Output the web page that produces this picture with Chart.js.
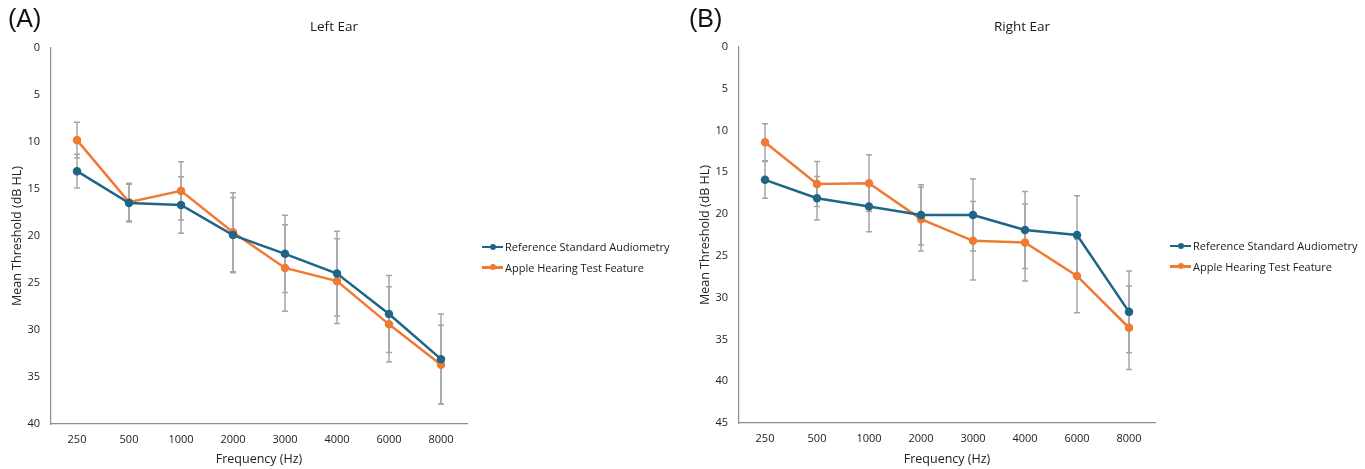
<!DOCTYPE html>
<html>
<head>
<meta charset="utf-8">
<script src="https://cdn.jsdelivr.net/npm/chart.js@4.4.1/dist/chart.umd.min.js"></script>
<style>
  body { margin: 0; background: #fff; font-family: "Open Sans", sans-serif; }
  #wrap { position: relative; width: 1365px; height: 469px; overflow: hidden; }
  .panel { position: absolute; top: 0; height: 469px; }
  .tag { position: absolute; top: 4px; font: 25px "Liberation Sans", Arial, sans-serif; color: #111; }
  .ttl { position: absolute; top: 17px; font-size: 13.5px; color: #1a1a1a; transform: translateX(-50%); white-space: nowrap; }
  .leg { position: absolute; font-size: 11px; color: #1a1a1a; }
  .leg div { height: 20.5px; line-height: 20px; white-space: nowrap; }
  .leg span { display: inline-block; width: 21px; height: 2.5px; vertical-align: middle; position: relative; margin-right: 2px; top: -1px; }
  .leg span:after { content: ""; position: absolute; left: 7.5px; top: -2px; width: 6px; height: 6px; border-radius: 50%; background: inherit; }
</style>
</head>
<body>
<div id="wrap">
  <div class="panel" style="left:0;width:680px"><canvas id="left" width="680" height="469"></canvas></div>
  <div class="panel" style="left:680px;width:685px"><canvas id="right" width="685" height="469"></canvas></div>
  <div class="tag" style="left:8px">(A)</div>
  <div class="tag" style="left:689px">(B)</div>
  <div class="ttl" style="left:334px">Left Ear</div>
  <div class="ttl" style="left:1022px">Right Ear</div>
  <div class="leg" style="left:482px;top:237px">
    <div><span style="background:#1f6587"></span>Reference Standard Audiometry</div>
    <div><span style="background:#f07a33"></span>Apple Hearing Test Feature</div>
  </div>
  <div class="leg" style="left:1170px;top:236px">
    <div><span style="background:#1f6587"></span>Reference Standard Audiometry</div>
    <div><span style="background:#f07a33"></span>Apple Hearing Test Feature</div>
  </div>
</div>
<script>
// frequencies
const freqs = ['250', '500', '1000', '2000', '3000', '4000', '6000', '8000'];

// left ear
const leftRef = [13.1, 16.5, 16.7, 19.9, 21.9, 24.0, 28.3, 33.1];
const leftRefSd = [1.8, 2.0, 3.0, 4.0, 4.1, 4.5, 4.1, 4.8];
const leftApple = [9.8, 16.4, 15.2, 19.6, 23.4, 24.8, 29.4, 33.7];
const leftAppleSd = [1.9, 2.0, 3.1, 4.2, 4.6, 4.5, 4.0, 4.2];

// right ear
const rightRef = [15.9, 18.1, 19.1, 20.1, 20.1, 21.9, 22.5, 31.7];
const rightRefSd = [2.2, 2.6, 3.0, 3.6, 4.3, 4.6, 4.7, 4.9];
const rightApple = [11.4, 16.4, 16.3, 20.6, 23.2, 23.4, 27.4, 33.6];
const rightAppleSd = [2.2, 2.7, 3.4, 3.8, 4.7, 4.6, 4.4, 5.0];

const BLUE = '#1f6587';
const ORANGE = '#f07a33';

// error bars drawn under the lines
const errorBars = {
    id: 'errorBars',
    beforeDatasetsDraw(chart) {
        const ctx = chart.ctx;
        const x = chart.scales.x, y = chart.scales.y;
        ctx.save();
        ctx.strokeStyle = '#a6a6a6';
        ctx.lineWidth = 1.5;
        chart.data.datasets.forEach(ds => {
            ds.data.forEach((v, i) => {
                const px = x.getPixelForValue(i);
                const top = y.getPixelForValue(v - ds.sd[i]);
                const bot = y.getPixelForValue(v + ds.sd[i]);
                ctx.beginPath();
                ctx.moveTo(px, top); ctx.lineTo(px, bot);
                ctx.moveTo(px - 3, top); ctx.lineTo(px + 3, top);
                ctx.moveTo(px - 3, bot); ctx.lineTo(px + 3, bot);
                ctx.stroke();
            });
        });
        ctx.restore();
    }
};

function makeSeries(label, data, sd, color) {
    return {
        label: label,
        data: data,
        sd: sd,
        borderColor: color,
        backgroundColor: color,
        borderWidth: 2.5,
        pointRadius: 3,
        pointHoverRadius: 3,
        tension: 0
    };
}

function makeChart(id, refData, refSd, appleData, appleSd, yMax, padRight, yWidth, top, titlePad) {
    const tickFont = { family: 'Open Sans', size: 11 };
    const titleFont = { family: 'Open Sans', size: 12.5 };
    return new Chart(document.getElementById(id), {
        type: 'line',
        data: {
            labels: freqs,
            datasets: [
                makeSeries('Reference Standard Audiometry', refData, refSd, BLUE),
                makeSeries('Apple Hearing Test Feature', appleData, appleSd, ORANGE)
            ]
        },
        options: {
            responsive: false,
            animation: false,
            layout: { padding: { top: top, right: padRight, left: 0, bottom: 0 } },
            plugins: { legend: { display: false }, tooltip: { enabled: false } },
            scales: {
                x: {
                    offset: true,
                    grid: { display: false, drawTicks: false },
                    border: { color: '#8c8c8c', width: 1.2 },
                    ticks: { color: '#222', font: tickFont, padding: 9, maxRotation: 0 },
                    title: { display: true, text: 'Frequency (Hz)', color: '#222', font: titleFont, padding: { top: 0, bottom: 2 } },
                    afterFit: s => { s.height = 469 - top - (424 - 48); }
                },
                y: {
                    reverse: true,
                    min: 0,
                    max: yMax,
                    grid: { display: false, drawTicks: false },
                    border: { color: '#8c8c8c', width: 1.2 },
                    ticks: { stepSize: 5, color: '#222', font: tickFont, padding: 11 },
                    title: { display: true, text: 'Mean Threshold (dB HL)', color: '#222', font: titleFont, padding: { top: titlePad, bottom: 0 } },
                    afterFit: s => { s.width = yWidth; }
                }
            }
        },
        plugins: [errorBars]
    });
}

makeChart('left', leftRef, leftRefSd, leftApple, leftAppleSd, 40, 213, 51, 48, 10);
makeChart('right', rightRef, rightRefSd, rightApple, rightAppleSd, 45, 210, 59, 47, 18);
</script>
</body>
</html>
